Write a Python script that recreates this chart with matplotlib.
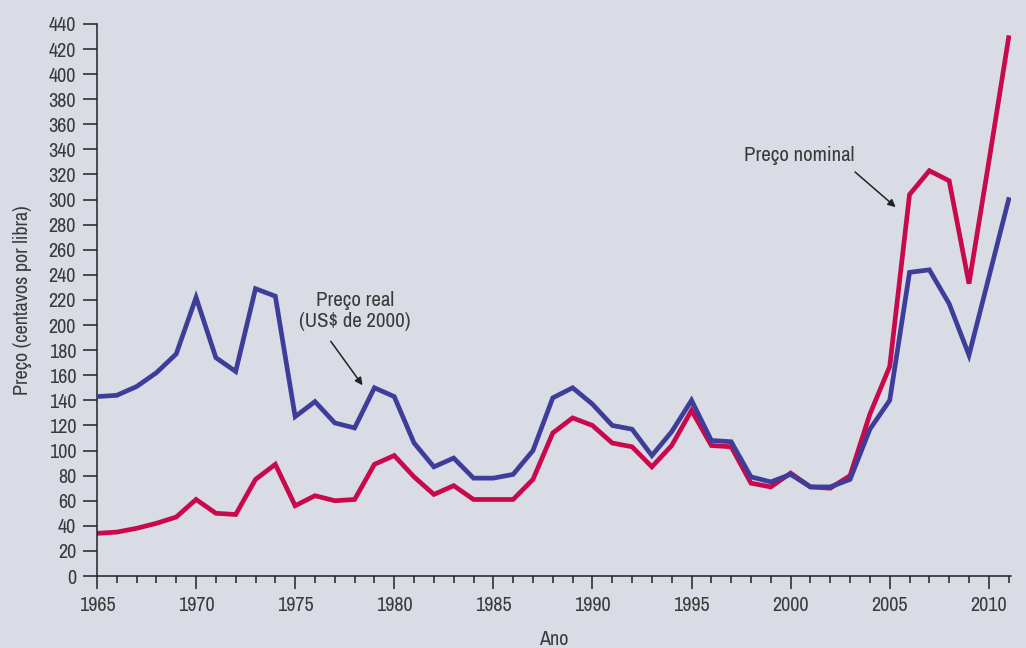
import matplotlib
matplotlib.use("Agg")
import matplotlib.pyplot as plt
from matplotlib.ticker import MultipleLocator

plt.rcParams['font.family'] = ['Archivo Narrow', 'Liberation Sans', 'DejaVu Sans']

years = list(range(1965, 2012))
real_price = [143, 144, 151, 162, 177, 222, 174, 163, 229, 223,
              127, 139, 122, 118, 150, 143, 106, 87, 94, 78,
              78, 81, 100, 142, 150, 137, 120, 117, 96, 115,
              140, 108, 107, 79, 75, 81, 71, 71, 77, 117,
              140, 242, 244, 217, 176, 238, 300]
nominal_price = [34, 35, 38, 42, 47, 61, 50, 49, 77, 89,
                 56, 64, 60, 61, 89, 96, 79, 65, 72, 61,
                 61, 61, 77, 114, 126, 120, 106, 103, 87, 104,
                 132, 104, 103, 74, 71, 82, 71, 70, 80, 129,
                 167, 304, 323, 315, 233, 330, 429]

bg = '#d9dce5'
txt = '#3a3a3a'
fig = plt.figure(figsize=(10.26, 6.48), dpi=100, facecolor=bg)
ax = fig.add_axes([0.0945, 0.1111, 0.8905, 0.852], facecolor=bg)

ax.plot(years, real_price, color='#3e3e9a', lw=3.4, solid_joinstyle='miter', zorder=3)
ax.plot(years, nominal_price, color='#c8094c', lw=3.4, solid_joinstyle='miter', zorder=2)

ax.set_xlim(1965, 2011.1)
ax.set_ylim(0, 440)
ax.xaxis.set_major_locator(MultipleLocator(5))
ax.xaxis.set_minor_locator(MultipleLocator(1))
ax.yaxis.set_major_locator(MultipleLocator(20))
for s in ['top', 'right']:
    ax.spines[s].set_visible(False)
for s in ['left', 'bottom']:
    ax.spines[s].set_color('#222222')
    ax.spines[s].set_linewidth(1.1)
ax.tick_params(axis='x', which='major', length=9.5, width=1.1, color='#222222',
               labelsize=14.5, labelcolor=txt, pad=5)
ax.tick_params(axis='x', which='minor', length=5, width=1.1, color='#222222')
ax.tick_params(axis='y', which='major', length=10, width=1.1, color='#222222',
               labelsize=14.5, labelcolor=txt, pad=5)

ax.set_ylabel('Preço (centavos por libra)', fontsize=14.5, color=txt, labelpad=12)
ax.set_xlabel('Ano', fontsize=14.5, color=txt, labelpad=11)

ax.text(1978.0, 211, 'Preço real\n(US$ de 2000)', ha='center', va='center',
        fontsize=15, color=txt, linespacing=1.15)
ax.annotate('', xy=(1978.4, 152), xytext=(1976.8, 187),
            arrowprops=dict(arrowstyle='-|>', color='#222222', lw=1.1,
                            mutation_scale=11, shrinkA=0, shrinkB=0))
ax.text(2000.45, 335, 'Preço nominal', ha='center', va='center',
        fontsize=15, color=txt)
ax.annotate('', xy=(2005.3, 294), xytext=(2003.25, 322),
            arrowprops=dict(arrowstyle='-|>', color='#222222', lw=1.1,
                            mutation_scale=11, shrinkA=0, shrinkB=0))

fig.savefig('out.png', dpi=100, facecolor=bg)
